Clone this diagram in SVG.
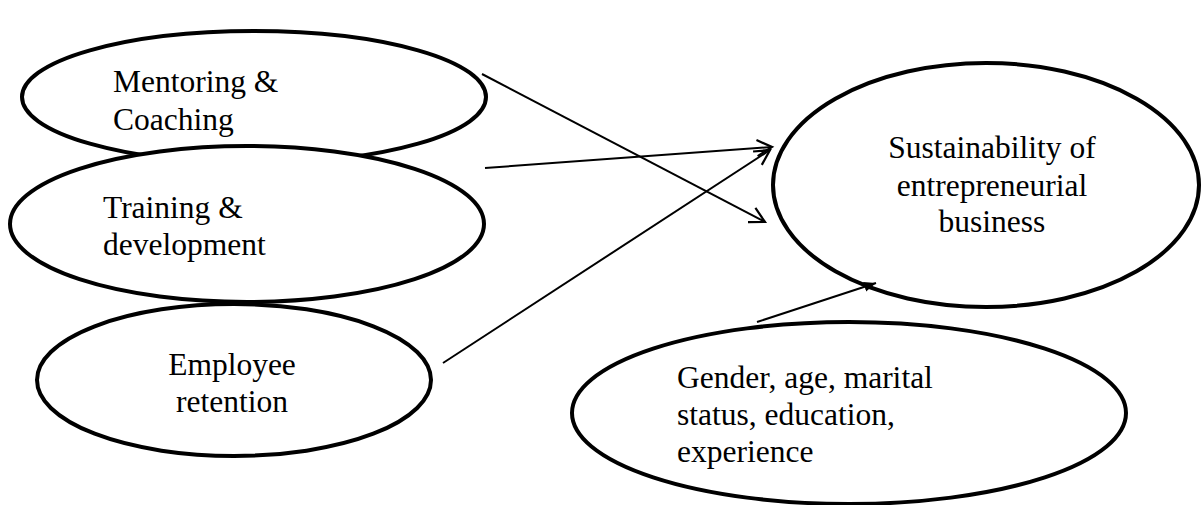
<svg xmlns="http://www.w3.org/2000/svg" width="1201" height="505" viewBox="0 0 1201 505">
<style>
.node ellipse{fill:#fff;stroke:#000;stroke-width:4}
.node text{font-family:"Liberation Serif","Times New Roman",serif;font-size:31.5px;fill:#000}
.mid{text-anchor:middle}
.conn line{stroke:#000;stroke-width:2;fill:none}
</style>
<defs>
<marker id="open" markerWidth="20" markerHeight="20" refX="17" refY="9" orient="auto" markerUnits="userSpaceOnUse">
<path d="M2,1 L17,9 L2,17" fill="none" stroke="#000" stroke-width="2.2"/>
</marker>
<marker id="solid" markerWidth="14" markerHeight="12" refX="12" refY="6" orient="auto" markerUnits="userSpaceOnUse">
<path d="M0,1 L12,6 L0,11 Z" fill="#000"/>
</marker>
</defs>
<rect width="1201" height="505" fill="#fff"/>
<g id="n-mentoring" class="node">
<ellipse cx="254" cy="97" rx="232" ry="66"/>
<text x="113" y="92">Mentoring &amp;</text>
<text x="113" y="130">Coaching</text>
</g>
<g id="n-training" class="node">
<ellipse cx="247" cy="224" rx="237" ry="78"/>
<text x="103" y="218">Training &amp;</text>
<text x="103" y="255">development</text>
</g>
<g id="n-retention" class="node">
<ellipse cx="234" cy="380" rx="197" ry="76"/>
<text class="mid" x="232" y="375">Employee</text>
<text class="mid" x="232" y="412">retention</text>
</g>
<g id="n-sustain" class="node">
<ellipse cx="986" cy="185" rx="213" ry="122"/>
<text class="mid" x="992" y="158">Sustainability of</text>
<text class="mid" x="992" y="196">entrepreneurial</text>
<text class="mid" x="992" y="232">business</text>
</g>
<g id="n-demo" class="node">
<ellipse cx="849" cy="413" rx="277" ry="91"/>
<text x="677" y="388">Gender, age, marital</text>
<text x="677" y="425">status, education,</text>
<text x="677" y="462">experience</text>
</g>
<g id="connectors" class="conn">
<line x1="482" y1="74" x2="765" y2="222" marker-end="url(#open)"/>
<line x1="485" y1="168" x2="772" y2="147" marker-end="url(#open)"/>
<line x1="443" y1="363" x2="770" y2="150" marker-end="url(#open)"/>
<line x1="757" y1="322" x2="876" y2="283" marker-end="url(#solid)"/>
</g>
</svg>
